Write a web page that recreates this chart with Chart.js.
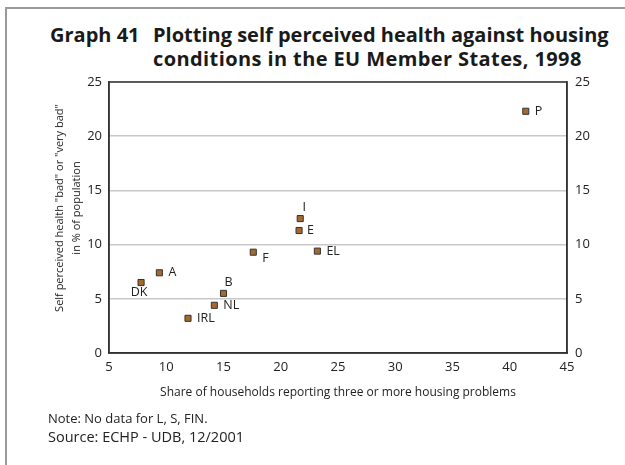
<!DOCTYPE html>
<html>
<head>
<meta charset="utf-8">
<script src="https://cdn.jsdelivr.net/npm/chart.js@4"></script>
<style>
  body { margin: 0; background: #fff; }
  #wrap { position: relative; width: 625px; height: 465px; overflow: hidden; font-family: "Open Sans", sans-serif; color: #222; }
  #frame { position: absolute; left: 5px; top: 7px; right: -10px; bottom: -10px; border-top: 2px solid #9a9a9a; border-left: 2px solid #9a9a9a; }
  .title { position: absolute; font-weight: bold; font-size: 20px; white-space: nowrap; line-height: 24px; color: #1a1a1a; }
  .note { position: absolute; left: 48px; white-space: nowrap; }
  #ytitle { position: absolute; left: 67px; top: 208px; width: 0; height: 0; }
  #ytitle div { position: absolute; left: -120px; top: -17px; width: 240px; height: 34px; transform: rotate(-90deg); white-space: nowrap; text-align: center; font-size: 11px; line-height: 17px; }
  canvas { position: absolute; left: 0; top: 0; }
</style>
</head>
<body>
<div id="wrap">
  <div id="frame"></div>
  <div class="title" style="left:50px; top:23px;">Graph 41</div>
  <div class="title" style="left:153px; top:23px;">Plotting self perceived health against housing<br><span style="letter-spacing:0.4px">conditions in the EU Member States, 1998</span></div>
  <canvas id="chart" width="625" height="465"></canvas>
  <div id="ytitle"><div>Self perceived health "bad" or "very bad"<br>in % of population</div></div>
  <div class="note" style="top:409px; font-size:13px;">Note: No data for L, S, FIN.</div>
  <div class="note" style="top:427px; font-size:14.5px;">Source: ECHP - UDB, 12/2001</div>
</div>
<script>
// data
const countries = ['DK', 'A', 'IRL', 'NL', 'B', 'F', 'I', 'E', 'EL', 'P'];
const housingProblems = [7.8, 9.4, 11.9, 14.2, 15.0, 17.6, 21.7, 21.6, 23.2, 41.4];
const badHealth = [6.5, 7.4, 3.2, 4.4, 5.5, 9.3, 12.4, 11.3, 9.4, 22.3];
const xTicks = [5, 10, 15, 20, 25, 30, 35, 40, 45];
const yTicks = [0, 5, 10, 15, 20, 25];

// where each country name sits relative to its marker
const labelPlace = {
    DK: [-2, 10, 'center'],
    A: [9, 0, 'left'],
    IRL: [9, 0, 'left'],
    NL: [9, 0, 'left'],
    B: [5, -11, 'center'],
    F: [9, 6, 'left'],
    I: [4, -11, 'center'],
    E: [8, 0, 'left'],
    EL: [9, 0, 'left'],
    P: [9, 0, 'left']
};

const points = countries.map((c, i) => ({x: housingProblems[i], y: badHealth[i]}));

const pointLabels = {
    id: 'pointLabels',
    afterDatasetsDraw(chart) {
        const ctx = chart.ctx;
        const meta = chart.getDatasetMeta(0);
        ctx.save();
        ctx.font = '12.5px "Open Sans"';
        ctx.fillStyle = '#222';
        ctx.textBaseline = 'middle';
        meta.data.forEach((el, i) => {
            const p = labelPlace[countries[i]];
            ctx.textAlign = p[2];
            ctx.fillText(countries[i], el.x + p[0], el.y + p[1]);
        });
        ctx.restore();
    }
};

const boxBorder = {
    id: 'boxBorder',
    afterDraw(chart) {
        const a = chart.chartArea;
        const ctx = chart.ctx;
        ctx.save();
        ctx.strokeStyle = '#333';
        ctx.lineWidth = 1.5;
        ctx.strokeRect(a.left, a.top, a.right - a.left, a.bottom - a.top);
        ctx.restore();
    }
};

const tickFont = {family: 'Open Sans', size: 13};

new Chart(document.getElementById('chart'), {
    type: 'scatter',
    data: {
        datasets: [{
            data: points,
            pointStyle: 'rect',
            pointRadius: 4.3,
            pointHoverRadius: 4.3,
            backgroundColor: '#a5692e',
            borderColor: '#333',
            borderWidth: 1
        }]
    },
    options: {
        responsive: false,
        animation: false,
        events: [],
        layout: {padding: {top: 82, left: 0, right: 0, bottom: 0}},
        plugins: {legend: {display: false}, tooltip: {enabled: false}},
        scales: {
            x: {
                type: 'linear',
                min: 5, max: 45,
                afterFit: s => { s.height = 112; },
                afterBuildTicks: s => { s.ticks = xTicks.map(v => ({value: v})); },
                grid: {display: false, drawTicks: false},
                border: {color: '#333', width: 1.5},
                ticks: {font: tickFont, color: '#222', padding: 6, maxRotation: 0},
                title: {
                    display: true,
                    text: 'Share of households reporting three or more housing problems',
                    font: {family: 'Open Sans', size: 12},
                    color: '#222',
                    padding: {bottom: 65}
                }
            },
            y: {
                type: 'linear',
                position: 'left',
                min: 0, max: 25,
                afterFit: s => { s.width = 109; },
                afterBuildTicks: s => { s.ticks = yTicks.map(v => ({value: v})); },
                grid: {color: '#c8c8c8', lineWidth: 1.5, drawTicks: false},
                border: {color: '#333', width: 1.5},
                ticks: {font: tickFont, color: '#222', padding: 7}
            },
            y2: {
                type: 'linear',
                position: 'right',
                min: 0, max: 25,
                afterFit: s => { s.width = 58; },
                afterBuildTicks: s => { s.ticks = yTicks.map(v => ({value: v})); },
                grid: {display: false, drawTicks: false},
                border: {color: '#333', width: 1.5},
                ticks: {font: tickFont, color: '#222', padding: 8}
            }
        }
    },
    plugins: [pointLabels, boxBorder]
});
</script>
</body>
</html>
